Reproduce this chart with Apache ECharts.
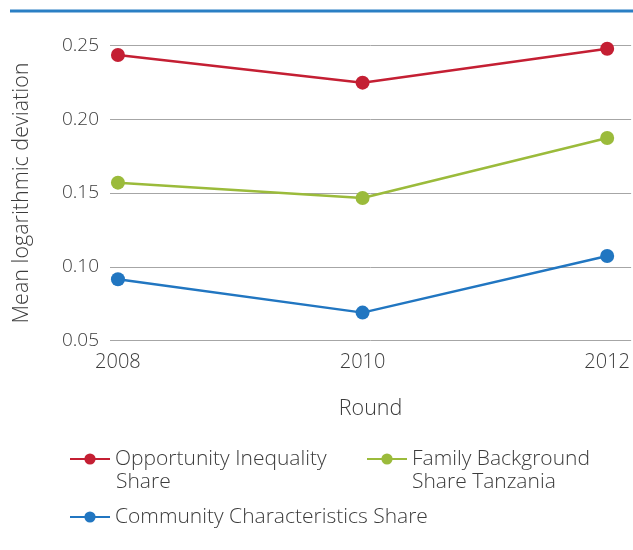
<!DOCTYPE html>
<html><head><meta charset="utf-8">
<script src="https://cdn.jsdelivr.net/npm/echarts@6/dist/echarts.min.js"></script>
<style>html,body{margin:0;padding:0;background:#fff}#c{width:633px;height:550px}</style>
</head><body><div id="c"></div>
<script>
const years = [2008, 2010, 2012];
const yTicks = [0.05, 0.10, 0.15, 0.20, 0.25];
const opportunity = [0.2436, 0.2248, 0.2478];
const family = [0.157, 0.1466, 0.1873];
const community = [0.0915, 0.0689, 0.1073];
const seriesNames = ['Opportunity Inequality Share', 'Family Background Share Tanzania', 'Community Characteristics Share'];
const legendFirstLine = ['Opportunity Inequality', 'Family Background', 'Community Characteristics Share'];
const legendSecondLine = ['Share', 'Share Tanzania', ''];
const colors = ['#c41f33', '#9bbb3b', '#2176c1'];
const FONT = 'Open Sans';
const TXT = '#3c3c3c';

const chart = echarts.init(document.getElementById('c'), null, {renderer: 'canvas'});
function mk(name, vals, color) {
  return {
    name: name, type: 'line', data: years.map((y, i) => [y, vals[i]]),
    symbol: 'circle', symbolSize: 14, color: color,
    lineStyle: {width: 2.5, color: color}, itemStyle: {color: color}
  };
}
const legText = {fontFamily: FONT, fontSize: 21, fontWeight: 300, color: TXT, lineHeight: 24};
const legBase = {
  itemWidth: 40, itemHeight: 14, itemGap: 0, textStyle: legText,
  formatter: n => legendFirstLine[seriesNames.indexOf(n)]
};
chart.setOption({
  animation: false,
  grid: {left: 110, right: 1, top: 45.5, bottom: 209.5},
  graphic: [
    {type: 'line', shape: {x1: 10, y1: 11, x2: 633, y2: 11}, style: {stroke: '#2a7fc4', lineWidth: 3}},
    {type: 'text', left: 116, top: 472, style: {text: legendSecondLine[0], font: '300 21px "Open Sans"', fill: TXT}},
    {type: 'text', left: 412, top: 472, style: {text: legendSecondLine[1], font: '300 21px "Open Sans"', fill: TXT}}
  ],
  xAxis: {
    type: 'value', min: 2007.935, max: 2012.196,
    name: 'Round', nameLocation: 'middle', nameGap: 57,
    nameTextStyle: {fontFamily: FONT, fontSize: 21.5, fontWeight: 300, color: TXT},
    axisLine: {show: false}, axisTick: {show: false}, splitLine: {show: false},
    axisLabel: {customValues: years, fontFamily: FONT, fontSize: 20, fontWeight: 300, color: TXT, margin: 12, formatter: v => String(v)}
  },
  yAxis: {
    type: 'value', min: 0.05, max: 0.25, interval: 0.05,
    name: 'Mean logarithmic deviation', nameLocation: 'middle', nameGap: 77,
    nameTextStyle: {fontFamily: FONT, fontSize: 21.5, fontWeight: 300, color: TXT},
    axisLine: {show: false}, axisTick: {show: false},
    splitLine: {lineStyle: {color: '#a6a6a6', width: 1}},
    axisLabel: {fontFamily: FONT, fontSize: 19, fontWeight: 300, color: TXT, margin: 11, formatter: v => v.toFixed(2)}
  },
  legend: [
    Object.assign({}, legBase, {data: [seriesNames[0]], left: 64, top: 442}),
    Object.assign({}, legBase, {data: [seriesNames[1]], left: 361, top: 442}),
    Object.assign({}, legBase, {data: [seriesNames[2]], left: 64, top: 500})
  ],
  series: [mk(seriesNames[0], opportunity, colors[0]), mk(seriesNames[1], family, colors[1]), mk(seriesNames[2], community, colors[2])]
});
</script></body></html>
